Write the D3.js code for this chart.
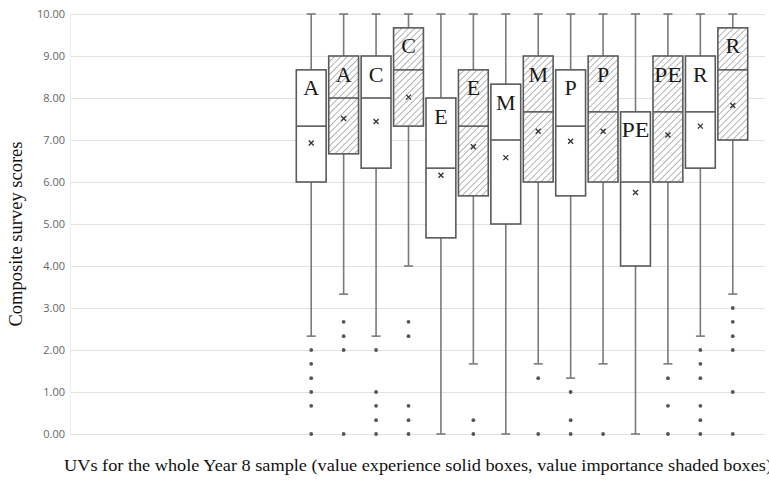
<!DOCTYPE html>
<html>
<head>
<meta charset="utf-8">
<script src="https://cdn.jsdelivr.net/npm/d3@7"></script>
<style>
  html, body { margin: 0; padding: 0; background: #fff; }
  svg { display: block; }
</style>
</head>
<body>
<svg id="chart" width="769" height="482"></svg>
<script>
// ---- data ----
const uvLabels = ["A", "C", "E", "M", "P", "PE", "R"];
const boxTypes = ["experience", "importance"]; // solid, shaded
const yTicks = [0, 1, 2, 3, 4, 5, 6, 7, 8, 9, 10];

// order: A exp, A imp, C exp, C imp, E exp, E imp, M exp, M imp, P exp, P imp, PE exp, PE imp, R exp, R imp
const q1Values      = [6.00, 6.67, 6.33, 7.33, 4.67, 5.67, 5.00, 6.00, 5.67, 6.00, 4.00, 6.00, 6.33, 7.00];
const medianValues  = [7.33, 8.00, 8.00, 8.67, 6.33, 7.33, 7.00, 7.67, 7.33, 7.67, 6.00, 7.67, 7.67, 8.67];
const q3Values      = [8.67, 9.00, 9.00, 9.67, 8.00, 8.67, 8.33, 9.00, 8.67, 9.00, 7.67, 9.00, 9.00, 9.67];
const meanValues    = [6.93, 7.51, 7.44, 8.02, 6.16, 6.84, 6.58, 7.21, 6.97, 7.21, 5.75, 7.12, 7.33, 7.82];
const whiskerLow    = [2.33, 3.33, 2.33, 4.00, 0.00, 1.67, 0.00, 1.67, 1.33, 1.67, 0.00, 1.67, 2.33, 3.33];
const whiskerHigh   = [10, 10, 10, 10, 10, 10, 10, 10, 10, 10, 10, 10, 10, 10];
const outlierValues = [
  [2.00, 1.67, 1.33, 1.00, 0.67, 0.00],
  [2.67, 2.33, 2.00, 0.00],
  [2.00, 1.00, 0.67, 0.33, 0.00],
  [2.67, 2.33, 0.67, 0.33, 0.00],
  [],
  [0.33, 0.00],
  [],
  [1.33, 0.00],
  [1.00, 0.33, 0.00],
  [0.00],
  [],
  [1.33, 0.67, 0.00],
  [2.00, 1.67, 1.33, 0.67, 0.33, 0.00],
  [3.00, 2.67, 2.33, 2.00, 1.00, 0.00]
];

// ---- build rows ----
const boxIds = [];
uvLabels.forEach(u => boxTypes.forEach(t => boxIds.push(u + "|" + t)));
const rows = boxIds.map((id, i) => ({
  id, label: id.split("|")[0], type: id.split("|")[1],
  q1: q1Values[i], med: medianValues[i], q3: q3Values[i], mean: meanValues[i],
  lo: whiskerLow[i], hi: whiskerHigh[i], out: outlierValues[i]
}));

const svg = d3.select("#chart");

// hatch pattern
const defs = svg.append("defs");
defs.append("pattern")
  .attr("id", "hatch")
  .attr("patternUnits", "userSpaceOnUse")
  .attr("width", 4.6).attr("height", 4.6)
  .attr("patternTransform", "rotate(45)")
  .call(p => {
    p.append("rect").attr("width", 4.6).attr("height", 4.6).attr("fill", "#fff");
    p.append("line").attr("x1", 0).attr("y1", 0).attr("x2", 0).attr("y2", 4.6)
      .attr("stroke", "#9c9c9c").attr("stroke-width", 1.5);
  });

// scales
const y = d3.scaleLinear().domain([0, 10]).range([434, 14]);
const x = d3.scaleBand().domain(boxIds).range([295, 749]).paddingInner(0.08).paddingOuter(0.04);
const bw = x.bandwidth();
const cx = d => x(d.id) + bw / 2;

// gridlines + tick labels
const yAxis = d3.axisLeft(y).tickValues(yTicks).tickFormat(d3.format(".2f"))
  .tickSize(-(765 - 70)).tickPadding(6);
const gAxis = svg.append("g").attr("transform", "translate(70,0)").call(yAxis);
gAxis.select(".domain").remove();
gAxis.selectAll(".tick line").attr("stroke", "#e2e2e2").attr("stroke-width", 1);
gAxis.selectAll(".tick text")
  .attr("fill", "#666")
  .attr("font-family", "'Open Sans', 'Liberation Sans', sans-serif")
  .attr("font-size", 11)
  .attr("x", -5);
// faint vertical axis line
svg.append("line").attr("x1", 70.5).attr("x2", 70.5).attr("y1", y(10)).attr("y2", y(0))
  .attr("stroke", "#ececec");

const g = svg.append("g");

// whiskers
g.selectAll(".whisker").data(rows).join("line")
  .attr("x1", cx).attr("x2", cx)
  .attr("y1", d => y(d.hi)).attr("y2", d => y(d.lo))
  .attr("stroke", "#7a7a7a").attr("stroke-width", 1.6);
// caps
["hi", "lo"].forEach(k => {
  g.selectAll(".cap-" + k).data(rows).join("line")
    .attr("x1", d => cx(d) - 4.5).attr("x2", d => cx(d) + 4.5)
    .attr("y1", d => y(d[k])).attr("y2", d => y(d[k]))
    .attr("stroke", "#7a7a7a").attr("stroke-width", 1.6);
});

// boxes
g.selectAll(".box").data(rows).join("rect")
  .attr("x", d => x(d.id)).attr("width", bw)
  .attr("y", d => y(d.q3)).attr("height", d => y(d.q1) - y(d.q3))
  .attr("fill", d => d.type === "importance" ? "url(#hatch)" : "#fff")
  .attr("stroke", "#5a5a5a").attr("stroke-width", 1.6);

// medians
g.selectAll(".median").data(rows).join("line")
  .attr("x1", d => x(d.id)).attr("x2", d => x(d.id) + bw)
  .attr("y1", d => y(d.med)).attr("y2", d => y(d.med))
  .attr("stroke", "#5a5a5a").attr("stroke-width", 1.6);

// means
const sym = d3.symbol().type(d3.symbolX).size(18);
g.selectAll(".mean").data(rows).join("path")
  .attr("d", sym)
  .attr("transform", d => `translate(${cx(d)},${y(d.mean)})`)
  .attr("fill", "none").attr("stroke", "#333").attr("stroke-width", 1.3);

// outliers
const outs = rows.flatMap(d => d.out.map(v => ({ d, v })));
g.selectAll(".outlier").data(outs).join("circle")
  .attr("cx", o => cx(o.d)).attr("cy", o => y(o.v)).attr("r", 1.9)
  .attr("fill", "#555");

// letter labels
g.selectAll(".lbl").data(rows).join("text")
  .attr("x", cx).attr("y", d => y(d.q3) + 25.5)
  .attr("text-anchor", "middle")
  .attr("font-family", "'Liberation Serif', 'DejaVu Serif', serif")
  .attr("font-size", 22)
  .attr("fill", "#1a1a1a")
  .attr("textLength", d => d.label.length > 1 ? 28 : null)
  .attr("lengthAdjust", "spacingAndGlyphs")
  .text(d => d.label);

// axis titles
svg.append("text")
  .attr("transform", "translate(22,234) rotate(-90)")
  .attr("text-anchor", "middle")
  .attr("font-family", "'Liberation Serif', serif")
  .attr("font-size", 18.5)
  .attr("fill", "#111")
  .text("Composite survey scores");

svg.append("text")
  .attr("x", 64).attr("y", 471)
  .attr("font-family", "'Liberation Serif', serif")
  .attr("font-size", 16)
  .attr("fill", "#111")
  .attr("textLength", 708)
  .attr("lengthAdjust", "spacingAndGlyphs")
  .text("UVs for the whole Year 8 sample (value experience solid boxes, value importance shaded boxes)");
</script>
</body>
</html>
